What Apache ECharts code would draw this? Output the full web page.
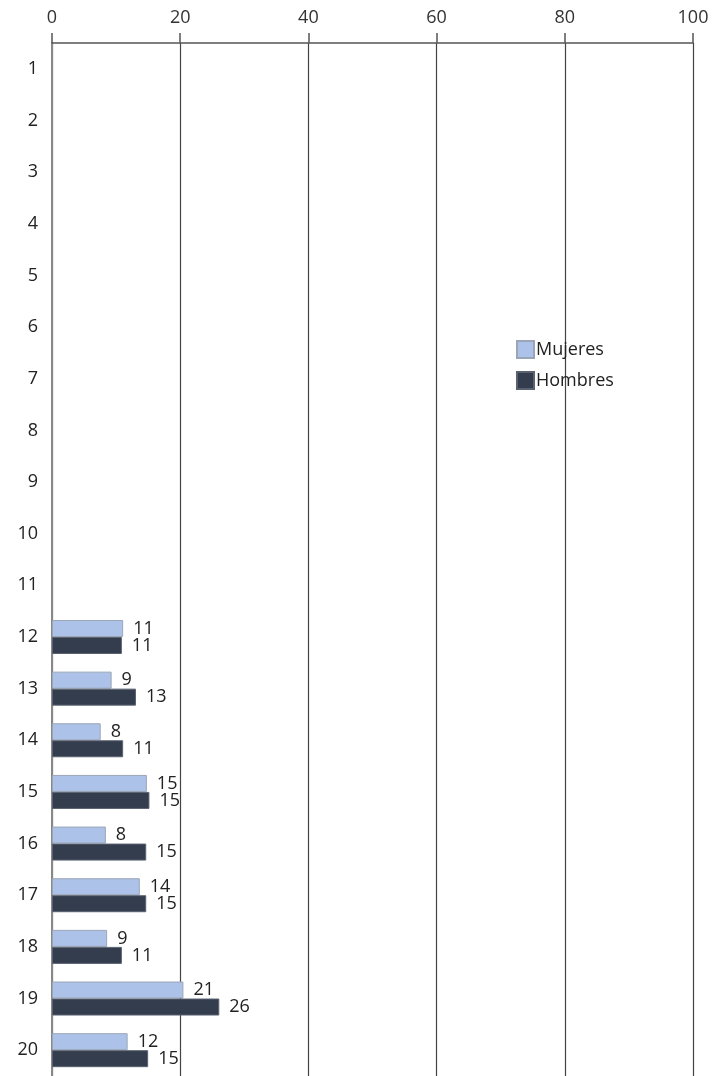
<!DOCTYPE html>
<html>
<head>
<meta charset="utf-8">
<script src="https://cdn.jsdelivr.net/npm/echarts@6/dist/echarts.min.js"></script>
<style>
html,body{margin:0;padding:0;background:#fff;}
#chart{width:713px;height:1076px;}
</style>
</head>
<body>
<div id="chart"></div>
<script>
const categories = ['1','2','3','4','5','6','7','8','9','10','11','12','13','14','15','16','17','18','19','20'];
const mujeres = [null,null,null,null,null,null,null,null,null,null,null,11.1,9.3,7.6,14.8,8.4,13.7,8.6,20.5,11.8];
const hombres = [null,null,null,null,null,null,null,null,null,null,null,10.9,13.1,11.1,15.2,14.7,14.7,10.9,26.1,15.0];
const xTicks = { min: 0, max: 100, interval: 20 };
const seriesNames = ['Mujeres', 'Hombres'];

const FONT = 'Open Sans';
const chart = echarts.init(document.getElementById('chart'), null, { renderer: 'canvas' });

const labelOpt = {
  show: true,
  position: 'right',
  distance: 10,
  fontFamily: FONT,
  fontSize: 18,
  color: '#222',
  formatter: p => p.value == null ? '' : String(Math.round(p.value))
};

chart.setOption({
  animation: false,
  backgroundColor: '#fff',
  textStyle: { fontFamily: FONT },
  grid: { left: 52, right: 20, top: 43, height: 1036, containLabel: false },
  legend: {
    orient: 'vertical',
    left: 511,
    top: 335,
    itemWidth: 17,
    itemHeight: 17,
    itemGap: 12,
    icon: 'rect',
    textStyle: { fontFamily: FONT, fontSize: 18, color: '#222', padding: [0, 0, 0, -3] },
    data: seriesNames
  },
  xAxis: {
    type: 'value',
    position: 'top',
    min: xTicks.min,
    max: xTicks.max,
    interval: xTicks.interval,
    axisLine: { show: true, lineStyle: { color: '#555', width: 1.5 } },
    axisTick: { show: true, length: 10, lineStyle: { color: '#555', width: 1.5 } },
    axisLabel: { fontFamily: FONT, fontSize: 18, color: '#333', margin: 16 },
    splitLine: { show: true, lineStyle: { color: '#444', width: 1.2 } }
  },
  yAxis: {
    type: 'category',
    inverse: true,
    data: categories,
    axisLine: { show: true, lineStyle: { color: '#888', width: 2 } },
    axisTick: { show: false },
    axisLabel: { fontFamily: FONT, fontSize: 18, color: '#222', margin: 14 },
    splitLine: { show: false }
  },
  series: [
    {
      name: seriesNames[0],
      type: 'bar',
      data: mujeres,
      barWidth: 17,
      barGap: '0%',
      itemStyle: { color: '#adc2e8', borderColor: '#9aa6b8', borderWidth: 1 },
      label: labelOpt
    },
    {
      name: seriesNames[1],
      type: 'bar',
      data: hombres,
      barWidth: 17,
      barGap: '0%',
      itemStyle: { color: '#333d4e', borderColor: '#5a6270', borderWidth: 1 },
      label: labelOpt
    }
  ]
});
</script>
</body>
</html>
